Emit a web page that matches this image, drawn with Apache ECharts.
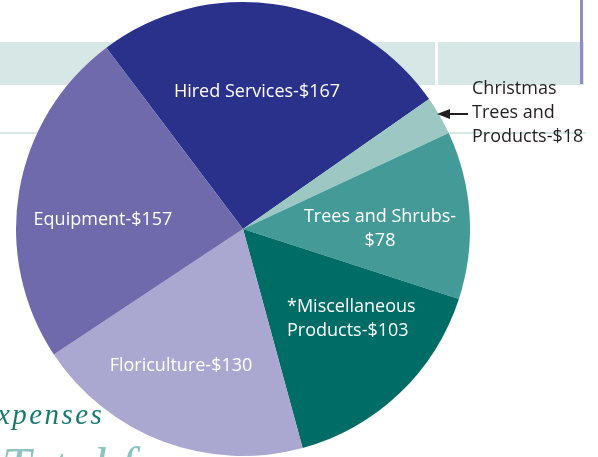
<!DOCTYPE html>
<html>
<head>
<meta charset="utf-8">
<style>
  html, body { margin: 0; padding: 0; background: #fff; }
  #main { width: 598px; height: 457px; }
</style>
<script src="https://cdn.jsdelivr.net/npm/echarts@6/dist/echarts.min.js"></script>
</head>
<body>
<div id="main"></div>
<script>
// expense categories, clockwise from the top
var categories = ['Hired Services', 'Christmas Trees and Products', 'Trees and Shrubs',
                  '*Miscellaneous Products', 'Floriculture', 'Equipment'];
var values = [167, 18, 78, 103, 130, 157];
var labelTexts = ['Hired Services-$167', 'Christmas\nTrees and\nProducts-$18', 'Trees and Shrubs-\n$78',
                  '*Miscellaneous\nProducts-$103', 'Floriculture-$130', 'Equipment-$157'];

var colors = ['#29318a', '#9cc7c3', '#439a97', '#006c66', '#aaa7d0', '#6e6aac'];
// label anchor: x, y, align
var labelPos = [[257, 92, 'center'], [472, 113, 'left'], [380, 229, 'center'],
                [287, 319, 'left'], [181, 366, 'center'], [103, 220, 'center']];

var chart = echarts.init(document.getElementById('main'));

var pieData = [];
for (var i = 0; i < categories.length; i++) {
    pieData.push({
        name: categories[i],
        value: values[i],
        itemStyle: { color: colors[i] },
        label: { color: i === 1 ? '#231f20' : '#ffffff' }
    });
}

chart.setOption({
    animation: false,
    graphic: [
        // background decoration
        { type: 'rect', z: -10, shape: { x: 0, y: 42, width: 584, height: 43 }, style: { fill: '#d7e7e5' } },
        { type: 'rect', z: -9, shape: { x: 435, y: 42, width: 3, height: 43 }, style: { fill: '#ffffff' } },
        { type: 'rect', z: -9, shape: { x: 580, y: 0, width: 3, height: 84 }, style: { fill: '#8e8dc9' } },
        { type: 'rect', z: -10, shape: { x: 0, y: 132, width: 586, height: 2 }, style: { fill: '#d7e7e5' } },
        { type: 'text', z: -5, x: -3, y: 402,
          style: { text: 'x\u200Ap\u200Ae\u200An\u200As\u200Ae\u200As', fill: '#1b7a70',
                   font: 'italic 29px "Liberation Serif"' } },
        { type: 'text', z: -5, x: 2, y: 444,
          style: { text: 'Total farm', fill: '#8fc4be', font: 'italic 52px "Liberation Serif"' } },
        // arrow to the small slice
        { type: 'line', z: 10, shape: { x1: 446, y1: 114, x2: 468, y2: 114 },
          style: { stroke: '#231f20', lineWidth: 2 } },
        { type: 'polygon', z: 10, shape: { points: [[437, 114], [450, 109], [450, 119]] },
          style: { fill: '#231f20' } }
    ],
    series: [{
        type: 'pie',
        z: 5,
        center: [243, 229],
        radius: 227,
        startAngle: 127,
        clockwise: true,
        avoidLabelOverlap: false,
        itemStyle: { borderWidth: 0 },
        emphasis: { disabled: true },
        label: {
            show: true,
            position: 'inside',
            fontFamily: 'Open Sans',
            fontSize: 18,
            lineHeight: 24,
            formatter: function (p) { return labelTexts[p.dataIndex]; }
        },
        labelLine: { show: false },
        labelLayout: function (params) {
            var p = labelPos[params.dataIndex];
            return { x: p[0], y: p[1], align: p[2], verticalAlign: 'middle' };
        },
        data: pieData
    }]
});
</script>
</body>
</html>
